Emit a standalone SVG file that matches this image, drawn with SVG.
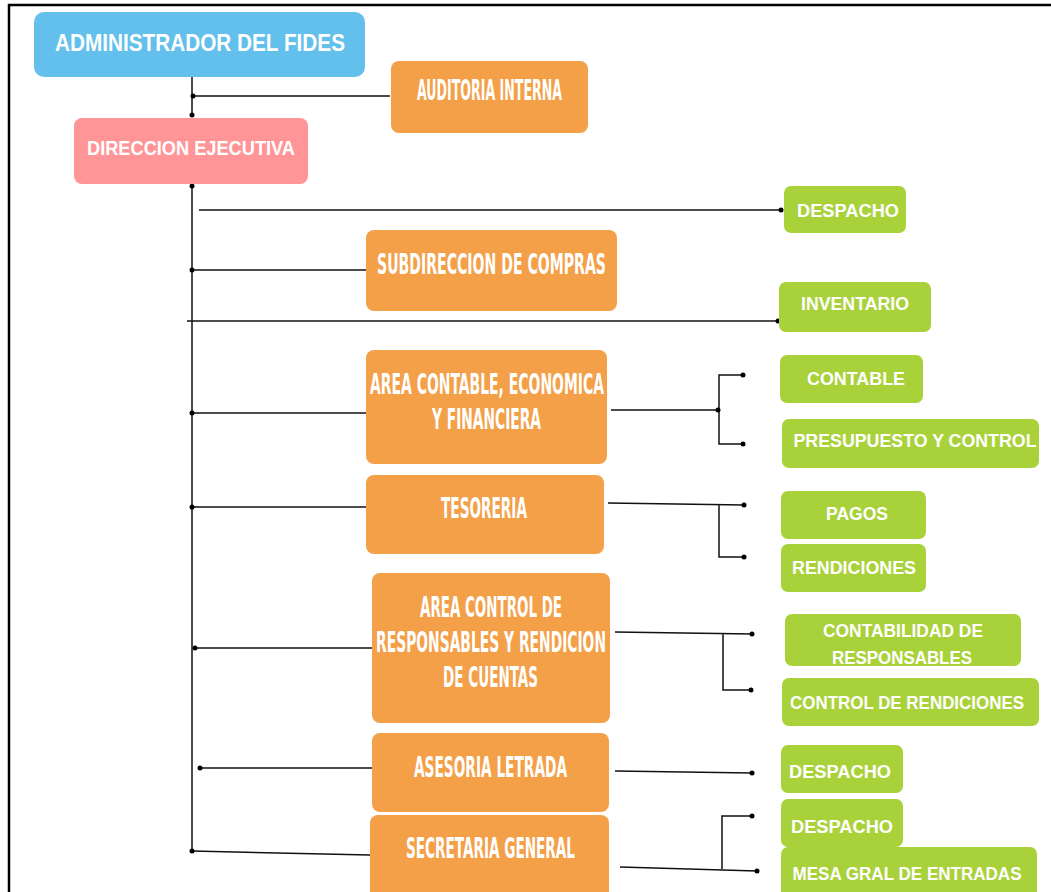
<svg xmlns="http://www.w3.org/2000/svg" width="1051" height="892" viewBox="0 0 1051 892">
<style>
.frame{stroke:#000;stroke-width:2.5;fill:none}
.blue{fill:#63BFEB}
.pink{fill:#FF9596}
.orange{fill:#F3A049}
.green{fill:#A9D23A}
.tw{fill:#fff;font-family:"Liberation Sans",Arial,sans-serif;font-weight:bold}
.tc{fill:#fff;font-family:"Liberation Sans Narrow","DejaVu Sans Condensed","Liberation Sans",sans-serif;font-weight:bold;font-size:28px;text-anchor:start}
.tg{fill:#fff;font-family:"Liberation Sans",Arial,sans-serif;font-weight:bold;font-size:18px;text-anchor:middle}
.ln{stroke:#111;stroke-width:1.5;fill:none}
.dot{fill:#000}
</style>
<rect width="1051" height="892" fill="#fff"/>
<path class="frame" d="M9,892 V5 H1051"/>

<g id="connectors">
<path class="ln" d="M192,74 V115 M193,96 H390"/>
<path class="ln" d="M192,186 V852"/>
<path class="ln" d="M199,210 H781"/>
<path class="ln" d="M192,270 H366"/>
<path class="ln" d="M187,321 H778"/>
<path class="ln" d="M192,413 H366"/>
<path class="ln" d="M611,410 H718 M743,375 H719 V444 H743"/>
<path class="ln" d="M192,507 H366"/>
<path class="ln" d="M608,503 L744,505 M719,504 V557 H744"/>
<path class="ln" d="M195,648 H372"/>
<path class="ln" d="M615,632 L752,634 M723,633 V690 H751"/>
<path class="ln" d="M200,768 H372"/>
<path class="ln" d="M615,771 L752,773"/>
<path class="ln" d="M192,851 L370,855"/>
<path class="ln" d="M620,867 L757,871 M752,816 H722 V869"/>
<g class="dot">
<circle cx="192" cy="74" r="2.5"/><circle cx="193" cy="96" r="2.5"/><circle cx="192" cy="115" r="2.5"/>
<circle cx="192" cy="186" r="2.5"/><circle cx="781" cy="210" r="2.5"/>
<circle cx="192" cy="270" r="2.5"/><circle cx="778" cy="321" r="2.5"/>
<circle cx="192" cy="413" r="2.5"/><circle cx="718" cy="410" r="2.5"/><circle cx="743" cy="375" r="2.5"/><circle cx="743" cy="444" r="2.5"/>
<circle cx="192" cy="507" r="2.5"/><circle cx="744" cy="505" r="2.5"/><circle cx="744" cy="557" r="2.5"/>
<circle cx="195" cy="648" r="2.5"/><circle cx="752" cy="634" r="2.5"/><circle cx="751" cy="690" r="2.5"/>
<circle cx="200" cy="768" r="2.5"/><circle cx="752" cy="773" r="2.5"/>
<circle cx="192" cy="851" r="2.5"/><circle cx="757" cy="871" r="2.5"/><circle cx="752" cy="816" r="2.5"/>
</g>
</g>

<g id="admin">
<rect class="blue" x="34" y="12" width="331" height="65" rx="10"/>
<text class="tw" x="55" y="51" font-size="24" textLength="290" lengthAdjust="spacingAndGlyphs">ADMINISTRADOR DEL FIDES</text>
</g>
<g id="auditoria">
<rect class="orange" x="391" y="61" width="197" height="72" rx="8"/>
<text class="tc" x="417" y="100" textLength="145" lengthAdjust="spacingAndGlyphs">AUDITORIA INTERNA</text>
</g>
<g id="direccion">
<rect class="pink" x="74" y="118" width="234" height="66" rx="8"/>
<text class="tw" x="87" y="155" font-size="20" textLength="208" lengthAdjust="spacingAndGlyphs">DIRECCION EJECUTIVA</text>
</g>
<g id="despacho1">
<rect class="green" x="784" y="186" width="122" height="47" rx="7"/>
<text class="tg" x="848" y="217" textLength="102" lengthAdjust="spacingAndGlyphs">DESPACHO</text>
</g>
<g id="subdireccion">
<rect class="orange" x="366" y="230" width="251" height="81" rx="8"/>
<text class="tc" x="377" y="274" textLength="229" lengthAdjust="spacingAndGlyphs">SUBDIRECCION DE COMPRAS</text>
</g>
<g id="inventario">
<rect class="green" x="779" y="282" width="152" height="50" rx="7"/>
<text class="tg" x="855" y="310" textLength="108" lengthAdjust="spacingAndGlyphs">INVENTARIO</text>
</g>
<g id="area-contable">
<rect class="orange" x="366" y="350" width="241" height="114" rx="8"/>
<text class="tc" x="370" y="394" textLength="234" lengthAdjust="spacingAndGlyphs">AREA CONTABLE, ECONOMICA</text>
<text class="tc" x="432" y="429" textLength="109" lengthAdjust="spacingAndGlyphs">Y FINANCIERA</text>
</g>
<g id="contable">
<rect class="green" x="780" y="355" width="143" height="48" rx="7"/>
<text class="tg" x="856" y="385" textLength="98" lengthAdjust="spacingAndGlyphs">CONTABLE</text>
</g>
<g id="presupuesto">
<rect class="green" x="782" y="419" width="257" height="49" rx="7"/>
<text class="tg" x="915" y="447" textLength="243" lengthAdjust="spacingAndGlyphs">PRESUPUESTO Y CONTROL</text>
</g>
<g id="tesoreria">
<rect class="orange" x="366" y="475" width="238" height="79" rx="8"/>
<text class="tc" x="441" y="518" textLength="86" lengthAdjust="spacingAndGlyphs">TESORERIA</text>
</g>
<g id="pagos">
<rect class="green" x="781" y="491" width="145" height="48" rx="7"/>
<text class="tg" x="857" y="520" textLength="62" lengthAdjust="spacingAndGlyphs">PAGOS</text>
</g>
<g id="rendiciones">
<rect class="green" x="781" y="544" width="145" height="48" rx="7"/>
<text class="tg" x="854" y="574" textLength="124" lengthAdjust="spacingAndGlyphs">RENDICIONES</text>
</g>
<g id="area-control">
<rect class="orange" x="372" y="573" width="238" height="150" rx="8"/>
<text class="tc" x="420" y="617" textLength="142" lengthAdjust="spacingAndGlyphs">AREA CONTROL DE</text>
<text class="tc" x="376" y="652" textLength="230" lengthAdjust="spacingAndGlyphs">RESPONSABLES Y RENDICION</text>
<text class="tc" x="443" y="687" textLength="95" lengthAdjust="spacingAndGlyphs">DE CUENTAS</text>
</g>
<g id="contabilidad-resp">
<rect class="green" x="785" y="614" width="236" height="52" rx="7"/>
<text class="tg" x="903" y="637" textLength="160" lengthAdjust="spacingAndGlyphs">CONTABILIDAD DE</text>
<text class="tg" x="902" y="664" textLength="140" lengthAdjust="spacingAndGlyphs">RESPONSABLES</text>
</g>
<g id="control-rendiciones">
<rect class="green" x="782" y="678" width="257" height="48" rx="7"/>
<text class="tg" x="907" y="709" textLength="234" lengthAdjust="spacingAndGlyphs">CONTROL DE RENDICIONES</text>
</g>
<g id="asesoria">
<rect class="orange" x="372" y="733" width="237" height="79" rx="8"/>
<text class="tc" x="414" y="777" textLength="153" lengthAdjust="spacingAndGlyphs">ASESORIA LETRADA</text>
</g>
<g id="despacho2">
<rect class="green" x="781" y="745" width="122" height="48" rx="7"/>
<text class="tg" x="840" y="778" textLength="102" lengthAdjust="spacingAndGlyphs">DESPACHO</text>
</g>
<g id="secretaria">
<rect class="orange" x="370" y="815" width="239" height="90" rx="8"/>
<text class="tc" x="406" y="858" textLength="169" lengthAdjust="spacingAndGlyphs">SECRETARIA GENERAL</text>
</g>
<g id="despacho3">
<rect class="green" x="781" y="799" width="122" height="48" rx="7"/>
<text class="tg" x="842" y="833" textLength="102" lengthAdjust="spacingAndGlyphs">DESPACHO</text>
</g>
<g id="mesa">
<rect class="green" x="781" y="847" width="256" height="55" rx="7"/>
<text class="tg" x="907" y="880" textLength="229" lengthAdjust="spacingAndGlyphs">MESA GRAL DE ENTRADAS</text>
</g>
</svg>
